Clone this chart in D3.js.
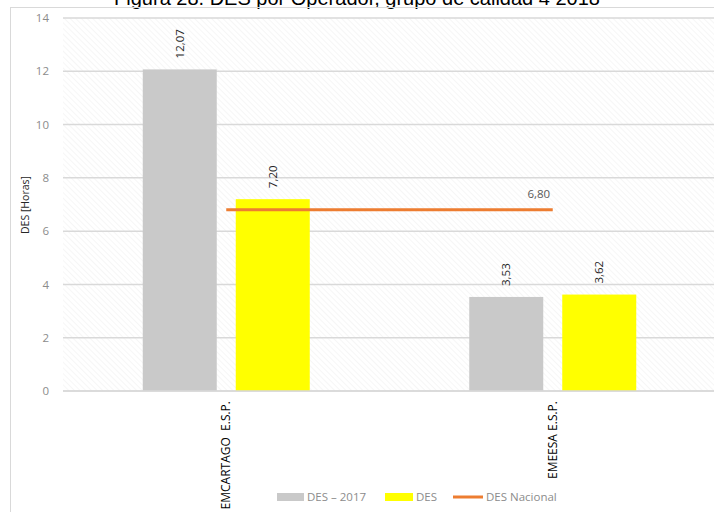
<!DOCTYPE html>
<html>
<head>
<meta charset="utf-8">
<script src="https://cdn.jsdelivr.net/npm/d3@7"></script>
<style>
  body { margin: 0; background: #fff; }
  svg { display: block; }
</style>
</head>
<body>
<svg id="chart" width="714" height="512"></svg>
<script>
// data
var categories = ["EMCARTAGO  E.S.P.", "EMEESA E.S.P."];
var series = ["DES \u2013 2017", "DES"];
var des2017 = [12.07, 3.53];
var des2018 = [7.20, 3.62];
var desNacional = [6.80, 6.80];
var yTicks = [0, 2, 4, 6, 8, 10, 12, 14];
var colors = ["#c9c9c9", "#ffff00"];
var lineColor = "#ed7d31";
var fmt = function (v) { return d3.format(".2f")(v).replace(".", ","); };

var svg = d3.select("#chart");
var font = "'Open Sans', sans-serif";

// hatch pattern for plot background
var defs = svg.append("defs");
var pat = defs.append("pattern")
    .attr("id", "hatch")
    .attr("width", 4).attr("height", 4)
    .attr("patternUnits", "userSpaceOnUse")
    .attr("patternTransform", "rotate(-45)");
pat.append("line")
    .attr("x1", 0).attr("y1", 0).attr("x2", 0).attr("y2", 4)
    .attr("stroke", "#f0f0f0").attr("stroke-width", 1.2);

// title (clipped at top in the original)
svg.append("text")
    .attr("x", 357).attr("y", 5)
    .attr("text-anchor", "middle")
    .attr("font-family", "'Liberation Sans', Arial, sans-serif")
    .attr("font-size", 20)
    .attr("fill", "#000")
    .text("Figura 28. DES por Operador, grupo de calidad 4 2018");

// chart border
svg.append("rect")
    .attr("x", 10.5).attr("y", 7.5)
    .attr("width", 720).attr("height", 520)
    .attr("fill", "none")
    .attr("stroke", "#d9d9d9").attr("stroke-width", 1);

var x0 = d3.scaleBand().domain(categories).range([63, 716]);
var y = d3.scaleLinear().domain([0, 14]).range([391, 18]);
var barW = 74, barGap = 19;
var x1 = function (i) {
    return x0.bandwidth() / 2 - barW - barGap / 2 + i * (barW + barGap);
};

// plot background
svg.append("rect")
    .attr("x", x0.range()[0]).attr("y", y(14))
    .attr("width", x0.range()[1] - x0.range()[0])
    .attr("height", y(0) - y(14))
    .attr("fill", "url(#hatch)");

// gridlines
svg.append("g").selectAll("line")
    .data(yTicks)
    .join("line")
    .attr("x1", x0.range()[0]).attr("x2", x0.range()[1])
    .attr("y1", function (d) { return y(d); })
    .attr("y2", function (d) { return y(d); })
    .attr("stroke", "#d9d9d9").attr("stroke-width", 1.5);

// y axis labels
var yAxis = d3.axisLeft(y).tickValues(yTicks).tickSize(0).tickPadding(14);
var gy = svg.append("g")
    .attr("transform", "translate(" + x0.range()[0] + ",0)")
    .call(yAxis);
gy.select(".domain").remove();
gy.selectAll("text")
    .attr("font-family", font)
    .attr("font-size", 11.5)
    .attr("fill", "#8c8c8c");

// y axis title
svg.append("text")
    .attr("transform", "translate(29," + 205 + ") rotate(-90)")
    .attr("text-anchor", "middle")
    .attr("font-family", font)
    .attr("font-size", 10.5)
    .attr("fill", "#262626")
    .text("DES [Horas]");

// bars
var barData = [];
categories.forEach(function (c, ci) {
    [des2017, des2018].forEach(function (s, si) {
        barData.push({ cat: c, s: si, v: s[ci] });
    });
});

var bars = svg.append("g");
bars.selectAll("rect")
    .data(barData)
    .join("rect")
    .attr("x", function (d) { return x0(d.cat) + x1(d.s); })
    .attr("y", function (d) { return y(d.v); })
    .attr("width", barW)
    .attr("height", function (d) { return y(0) - y(d.v); })
    .attr("fill", function (d) { return colors[d.s]; });

bars.selectAll("text")
    .data(barData)
    .join("text")
    .attr("transform", function (d) {
        var cx = x0(d.cat) + x1(d.s) + barW / 2 + 4;
        return "translate(" + cx + "," + (y(d.v) - 11) + ") rotate(-90)";
    })
    .attr("font-family", font)
    .attr("font-size", 11.5)
    .attr("fill", "#262626")
    .text(function (d) { return fmt(d.v); });

// national line
var line = d3.line()
    .x(function (d, i) { return x0(categories[i]) + x0.bandwidth() / 2; })
    .y(function (d) { return y(d); });
svg.append("path")
    .datum(desNacional)
    .attr("d", line)
    .attr("fill", "none")
    .attr("stroke", lineColor)
    .attr("stroke-width", 3);

svg.append("text")
    .attr("x", x0(categories[1]) + x0.bandwidth() / 2 - 14)
    .attr("y", y(desNacional[1]) - 12)
    .attr("text-anchor", "middle")
    .attr("font-family", font)
    .attr("font-size", 11.5)
    .attr("fill", "#595959")
    .text(fmt(desNacional[1]));

// x axis line
svg.append("line")
    .attr("x1", x0.range()[0]).attr("x2", x0.range()[1])
    .attr("y1", y(0)).attr("y2", y(0))
    .attr("stroke", "#d9d9d9").attr("stroke-width", 1.5);

// x labels
svg.append("g").selectAll("text")
    .data(categories)
    .join("text")
    .attr("transform", function (d) {
        return "translate(" + (x0(d) + x0.bandwidth() / 2 + 4) + "," + (y(0) + 10) + ") rotate(-90)";
    })
    .attr("text-anchor", "end")
    .attr("font-family", font)
    .attr("font-size", 12)
    .attr("fill", "#000")
    .attr("xml:space", "preserve")
    .style("white-space", "pre")
    .text(function (d) { return d; });

// legend
var legendItems = [
    { label: series[0], type: "rect", color: colors[0], x: 277, w: 27 },
    { label: series[1], type: "rect", color: colors[1], x: 385, w: 28 },
    { label: "DES Nacional", type: "line", color: lineColor, x: 453, w: 30 }
];
var lg = svg.append("g").attr("transform", "translate(0,497)");
legendItems.forEach(function (it) {
    if (it.type === "rect") {
        lg.append("rect")
            .attr("x", it.x).attr("y", -4)
            .attr("width", it.w).attr("height", 8)
            .attr("fill", it.color);
    } else {
        lg.append("line")
            .attr("x1", it.x).attr("x2", it.x + it.w)
            .attr("y1", 0).attr("y2", 0)
            .attr("stroke", it.color).attr("stroke-width", 3);
    }
    lg.append("text")
        .attr("x", it.x + it.w + 3)
        .attr("y", 0)
        .attr("dy", "0.35em")
        .attr("font-family", font)
        .attr("font-size", 11.5)
        .attr("fill", "#8c8c8c")
        .text(it.label);
});
</script>
</body>
</html>
